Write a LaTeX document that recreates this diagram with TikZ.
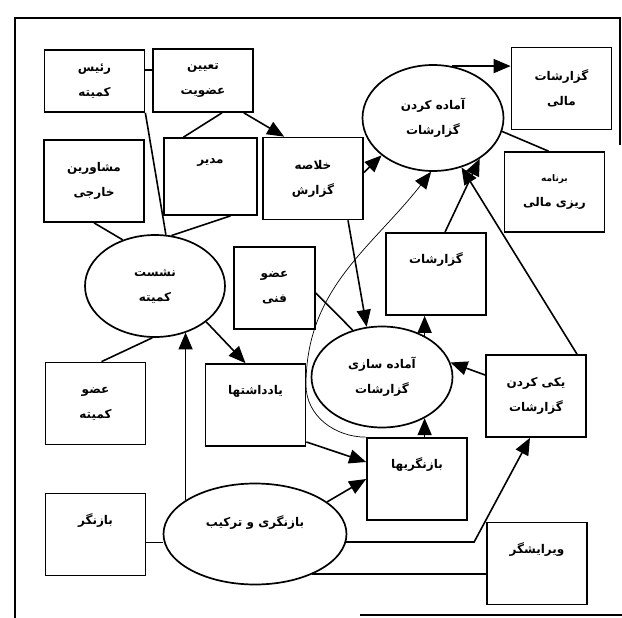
\documentclass[tikz,border=0pt]{standalone}
\usepackage{fontspec}
\usetikzlibrary{shapes.geometric,arrows.meta}
\newfontfamily\farsi[Script=Arabic]{DejaVu Sans}
\TeXXeTstate=1
\newcommand{\rtl}[1]{\beginR #1\endR}

\begin{document}
\begin{tikzpicture}[x=1pt,y=-1pt,
  lbl/.style={font=\farsi\bfseries\fontsize{12}{25}\selectfont, align=center},
  box/.style={lbl, draw, line width=1.7pt, minimum width=100pt, minimum height=82pt, inner sep=0pt},
  oval/.style={lbl, draw, ellipse, line width=1.7pt, inner sep=0pt},
  link/.style={line width=1.6pt},
  arr/.style={link, -{Triangle[length=17pt,width=14pt]}},
  thin/.style={line width=0.7pt, -{Triangle[length=17pt,width=14pt]}}]
  \useasboundingbox (0,0) rectangle (622,618);

  % frame of the scan
  \draw[line width=1.2pt] (15,618) -- (15,18) -- (620,18) -- (620,145);
  \draw[line width=1.2pt] (360,615) -- (622,615);

  % boxes
  \node[box, minimum height=62pt] (rais) at (94.5,81) {\rtl{رئیس}\\ \rtl{کمیته}};
  \node[box, minimum height=63pt] (tayin) at (203,80.5) {\rtl{تعیین}\\ \rtl{عضویت}};
  \node[box] (moshaver) at (94,181) {\rtl{مشاورین}\\ \rtl{خارجی}};
  \node[box, minimum width=93pt, minimum height=77pt] (modir) at (210.5,176.5) {\rtl{مدیر}\\[6pt] ~};
  \node[box] (kholase) at (313,178.5) {\rtl{خلاصه}\\ \rtl{گزارش}};
  \node[box] (mali) at (561.5,88.5) {\rtl{گزارشات}\\ \rtl{مالی}};
  \node[box, minimum height=80pt] (barname) at (554.5,192) {{\fontsize{9}{25}\selectfont\rtl{برنامه}}\\ \rtl{ریزی مالی}};
  \node[box] (gozaresh) at (436,274) {\rtl{گزارشات}\\[6pt] ~};
  \node[box, minimum width=81pt] (fanni) at (274.5,288) {\rtl{عضو}\\ \rtl{فنی}};
  \node[box] (ozv) at (95.5,403.5) {\rtl{عضو}\\ \rtl{کمیته}};
  \node[box] (yaddasht) at (255.5,405) {\rtl{یادداشتها}\\[6pt] ~};
  \node[box] (yeki) at (536,396) {\rtl{یکی کردن}\\ \rtl{گزارشات}};
  \node[box] (bazha) at (417,479) {\rtl{بازنگریها}\\[6pt] ~};
  \node[box] (baznegar) at (95.5,534.5) {\rtl{بازنگر}\\[6pt] ~};
  \node[box] (virayesh) at (537,563.5) {\rtl{ویرایشگر}\\[6pt] ~};

  % processes
  \node[oval, minimum width=140pt, minimum height=102pt] (neshast) at (155,286) {\rtl{نشست}\\ \rtl{کمیته}};
  \node[oval, minimum width=141pt, minimum height=106pt] (amadekardan) at (433,118) {\rtl{آماده کردن}\\ \rtl{گزارشات}};
  \node[oval, minimum width=141pt, minimum height=101pt] (amadesazi) at (382,377) {\rtl{آماده سازی}\\ \rtl{گزارشات}};
  \node[oval, minimum width=183pt, minimum height=101pt] (baznegari) at (255,534) {\rtl{بازنگری و ترکیب}\\ ~};

  % links around the committee
  \draw[link] ([yshift=11pt]rais.east) -- ([yshift=11pt]rais.east -| tayin.west);
  \draw[link] (rais.south east) -- (neshast.78);
  \draw[link] ([xshift=19pt]tayin.south) -- ([xshift=-27pt]modir.north);
  \draw[arr] ([xshift=-10pt]tayin.south east) -- ([xshift=22pt]kholase.north west);
  \draw[link] (moshaver.south) -- (neshast.125);
  \draw[link] ([xshift=20pt]modir.south) -- (neshast.72);
  \draw[link] ([xshift=6pt]ozv.north) -- (neshast.267);
  \draw[arr] (neshast.325) -- ([xshift=-10pt]yaddasht.north);
  \draw[arr] (baznegari.154) -- (baznegari.154 |- neshast.304);

  % links of the reports
  \draw[arr] ([yshift=6pt]kholase.east) -- (amadekardan.216);
  \draw[arr] (amadekardan.70) -- (amadekardan.70 -| mali.west);
  \draw[link] (amadekardan.349) -- ([xshift=-6pt]barname.north);
  \draw[arr] ([xshift=9pt]gozaresh.north) -- (amadekardan.319);
  \draw[arr] ([xshift=41pt]yeki.north) -- (amadekardan.300);
  \draw[arr] ([xshift=35pt]kholase.south) -- (amadesazi.107);
  \draw[link] ([yshift=-5pt]fanni.east) -- (amadesazi.122);
  \draw[arr] (amadesazi.44) -- (amadesazi.44 |- gozaresh.south);
  \draw[arr] ([yshift=21pt]yeki.west) -- (amadesazi.12);
  \draw[arr] (amadesazi.316 |- bazha.north) -- (amadesazi.316);
  \coordinate (dor) at (306,385);
  \draw[thin] (bazha.north west) to[out=180,in=-90] (dor) to[out=90,in=232] (amadekardan.268);

  % links of the review
  \draw[arr] ([yshift=-37pt]yaddasht.east) -- ([yshift=17pt]bazha.west);
  \draw[arr] (baznegari.24) -- (bazha.west);
  \draw[link] ([yshift=-8pt]baznegar.east) -- ([yshift=-8pt]baznegar.east -| baznegari.west);
  \draw[arr] (baznegari.-5) -- ([xshift=-11pt]baznegari.-5 -| yeki.west) -- ([xshift=-6pt]yeki.south);
  \draw[link] (baznegari.325) -- (baznegari.325 -| virayesh.west);
\end{tikzpicture}
\end{document}
